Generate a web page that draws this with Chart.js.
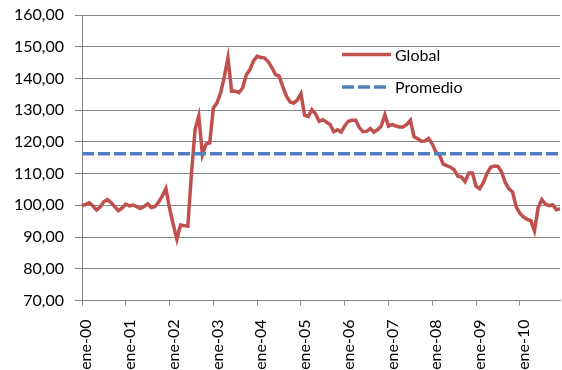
<!DOCTYPE html>
<html>
<head>
<meta charset="utf-8">
<script src="https://cdn.jsdelivr.net/npm/chart.js@4"></script>
<style>
  html, body { margin: 0; padding: 0; background: #fff; }
  #wrap { width: 562px; height: 370px; }
</style>
</head>
<body>
<div id="wrap"><canvas id="grafico" width="562" height="370"></canvas></div>
<script>
// Datos (mensuales, ene-2000 a dic-2010)
const meses = ['ene', 'feb', 'mar', 'abr', 'may', 'jun', 'jul', 'ago', 'sep', 'oct', 'nov', 'dic'];
const anios = ['00', '01', '02', '03', '04', '05', '06', '07', '08', '09', '10'];

const global = [
  99.8, 100.3, 100.8, 99.8, 98.5, 99.5, 101.2, 101.8, 100.8, 99.5, 98.3, 99.2,
  100.4, 99.8, 100.1, 99.6, 99.0, 99.6, 100.5, 99.3, 99.6, 101.0, 103.0, 105.3,
  99.0, 94.0, 89.3, 93.8, 93.6, 93.4, 110.0, 124.0, 128.2, 116.0, 119.3, 119.7,
  130.7, 132.3, 135.5, 140.5, 146.5, 136.0, 136.0, 135.5, 137.0, 141.0, 142.8, 145.5,
  147.0, 146.6, 146.5, 145.3, 143.5, 141.2, 140.8, 137.5, 134.5, 132.6, 132.2, 133.2,
  135.2, 128.4, 128.0, 130.2, 128.8, 126.5, 127.0, 126.2, 125.5, 123.2, 123.8, 123.1,
  125.0, 126.5, 126.8, 126.8, 124.5, 123.2, 123.3, 124.2, 123.1, 123.8, 125.0, 128.5,
  125.0, 125.5, 125.0, 124.7, 124.7, 125.5, 126.8, 121.6, 121.0, 120.2, 120.3, 121.1,
  119.3, 116.8, 115.8, 113.0, 112.5, 112.0, 111.2, 109.2, 108.9, 107.5, 110.2, 110.2,
  106.0, 105.2, 107.2, 110.0, 112.0, 112.4, 112.3, 110.5, 107.2, 105.2, 104.2, 99.5,
  97.5, 96.3, 95.6, 95.2, 92.0, 99.2, 101.8, 100.4, 99.9, 100.2, 98.6, 98.9
];

// Promedio del periodo
const promedio = 116.3;

const yMin = 70;
const yMax = 160;
const yPaso = 10;

// Etiquetas "ene-00", "feb-00", ...
const etiquetas = [];
anios.forEach(a => meses.forEach(m => etiquetas.push(m + '-' + a)));

const FUENTE = 'Lato';
const GRIS = '#868686';
const ROJO = '#C0504D';
const AZUL = '#4F81BD';

// Leyenda dentro del área del gráfico
const leyendaInterna = {
  id: 'leyendaInterna',
  afterDraw(chart) {
    const ctx = chart.ctx;
    const items = [
      { ds: chart.data.datasets[0], y: 54.5 },
      { ds: chart.data.datasets[1], y: 87 }
    ];
    ctx.save();
    items.forEach(it => {
      ctx.beginPath();
      ctx.strokeStyle = it.ds.borderColor;
      ctx.lineWidth = it.ds.borderWidth;
      ctx.setLineDash(it.ds.borderDash || []);
      ctx.moveTo(342, it.y);
      ctx.lineTo(it.ds.borderDash ? 386 : 391, it.y);
      ctx.stroke();
      ctx.setLineDash([]);
      ctx.fillStyle = '#000';
      ctx.font = '16px ' + FUENTE;
      ctx.textBaseline = 'middle';
      ctx.textAlign = 'left';
      ctx.fillText(it.ds.label, 395, it.y + 1);
    });
    ctx.restore();
  }
};

new Chart(document.getElementById('grafico'), {
  type: 'line',
  data: {
    labels: etiquetas,
    datasets: [
      {
        label: 'Global',
        data: global,
        borderColor: ROJO,
        borderWidth: 3.5,
        pointRadius: 0,
        tension: 0,
        order: 1
      },
      {
        label: 'Promedio',
        data: etiquetas.map(() => promedio),
        borderColor: AZUL,
        borderWidth: 3.5,
        borderDash: [12, 4],
        pointRadius: 0,
        tension: 0,
        order: 0
      }
    ]
  },
  options: {
    responsive: false,
    animation: false,
    layout: { padding: { top: 15, right: 2, left: 0, bottom: 0 } },
    plugins: {
      legend: { display: false },
      tooltip: { enabled: false }
    },
    scales: {
      x: {
        offset: false,
        afterFit: s => { s.height = 69.5; s.paddingLeft = 0; s.paddingRight = 0; },
        border: { color: GRIS, width: 1 },
        grid: { drawOnChartArea: false, drawTicks: true, tickLength: 5, color: GRIS },
        ticks: {
          autoSkip: false,
          maxRotation: 90,
          minRotation: 90,
          padding: 14,
          labelOffset: 4,
          color: '#000',
          font: { family: FUENTE, size: 16 },
          callback: function (v) {
            const lab = this.getLabelForValue(v);
            return lab.startsWith('ene') ? lab : null;
          }
        }
      },
      y: {
        min: yMin,
        max: yMax,
        afterFit: s => { s.width = 82; s.paddingTop = 0; s.paddingBottom = 0; },
        border: { color: GRIS, width: 1 },
        grid: { color: GRIS, tickLength: 7 },
        ticks: {
          stepSize: yPaso,
          padding: 11,
          color: '#000',
          font: { family: FUENTE, size: 16 },
          callback: v => v.toFixed(2).replace('.', ',')
        }
      }
    }
  },
  plugins: [leyendaInterna]
});
</script>
</body>
</html>
